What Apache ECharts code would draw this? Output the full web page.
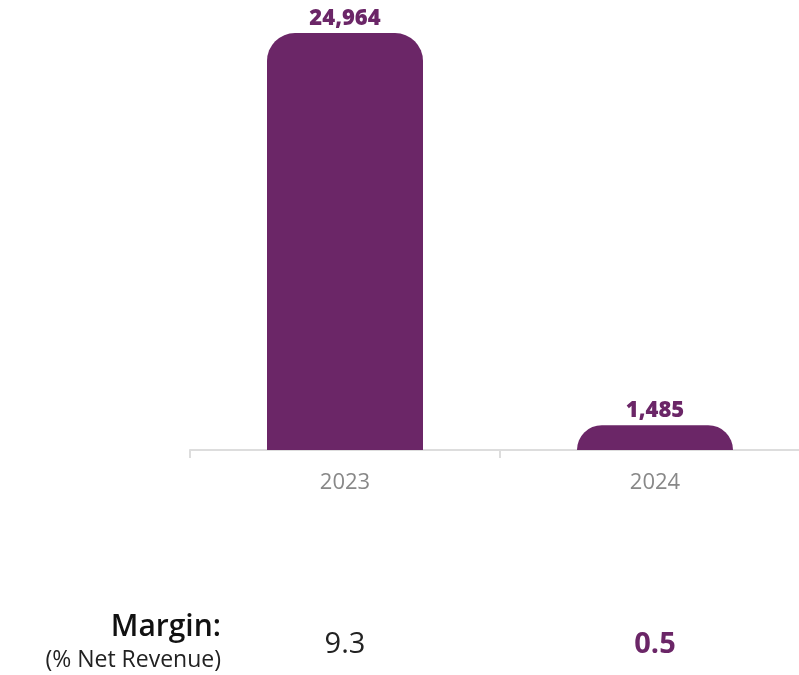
<!DOCTYPE html>
<html>
<head>
<meta charset="utf-8">
<script src="https://cdn.jsdelivr.net/npm/echarts@6/dist/echarts.min.js"></script>
<style>html,body{margin:0;padding:0;background:#fff}#c{width:799px;height:675px}</style>
</head>
<body>
<div id="c"></div>
<script>
var categories = ['2023', '2024'];
var values = [24964, 1485];
var margins = ['9.3', '0.5'];
var marginTitle = 'Margin:';
var marginSub = '(% Net Revenue)';

var purple = '#6B2667';
var chart = echarts.init(document.getElementById('c'), null, {renderer: 'canvas'});
var option = {
  animation: false,
  grid: {left: 190, top: 33, width: 620, height: 417, containLabel: false, outerBoundsMode: 'none'},
  xAxis: {
    type: 'category',
    data: categories,
    axisLine: {lineStyle: {color: '#dddddd', width: 2}},
    axisTick: {show: true, length: 8, lineStyle: {color: '#dddddd', width: 2}},
    axisLabel: {color: '#888888', fontSize: 22, fontFamily: 'Open Sans', margin: 22}
  },
  yAxis: {type: 'value', min: 0, max: 24964, show: false, splitLine: {show: false}},
  series: [{
    type: 'bar',
    data: values,
    barWidth: 156,
    itemStyle: {color: purple, borderRadius: [28, 28, 0, 0]},
    label: {
      show: true, position: 'top', distance: 3,
      color: purple, fontSize: 22, fontWeight: 800, fontFamily: 'Open Sans',
      formatter: function (p) { return p.value.toLocaleString('en-US'); }
    }
  }]
};
chart.setOption(option);

var x0 = chart.convertToPixel({xAxisIndex: 0}, categories[0]);
var x1 = chart.convertToPixel({xAxisIndex: 0}, categories[1]);
chart.setOption({
  graphic: [
    {type: 'text', x: 221, y: 627, style: {text: marginTitle, fill: '#111', font: '600 30px "Open Sans"', textAlign: 'right', textVerticalAlign: 'middle'}},
    {type: 'text', x: 221, y: 660, style: {text: marginSub, fill: '#222', font: '23px "Open Sans"', textAlign: 'right', textVerticalAlign: 'middle'}},
    {type: 'text', x: x0, y: 645, style: {text: margins[0], fill: '#222', font: '29px "Open Sans"', textAlign: 'center', textVerticalAlign: 'middle'}},
    {type: 'text', x: x1, y: 645, style: {text: margins[1], fill: purple, font: 'bold 29px "Open Sans"', textAlign: 'center', textVerticalAlign: 'middle'}}
  ]
});
</script>
</body>
</html>
